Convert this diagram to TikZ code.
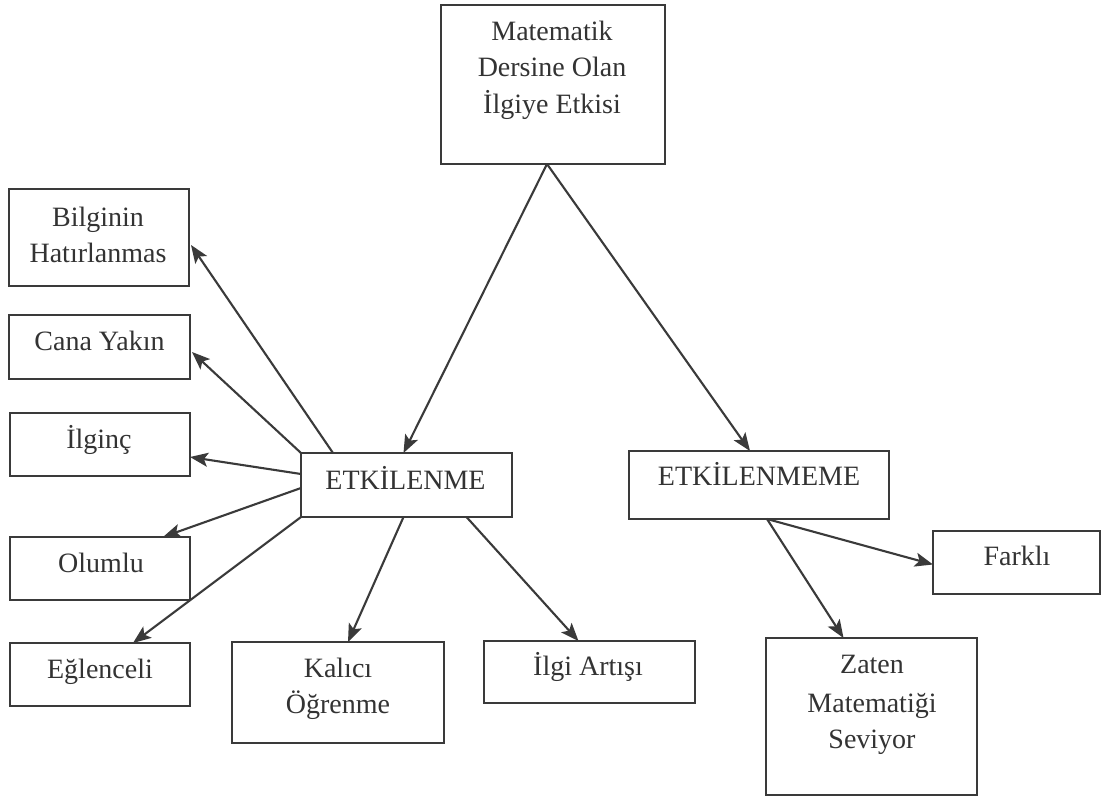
\documentclass[tikz,border=0pt]{standalone}
\usepackage{fontspec}
\setmainfont{Liberation Serif}
\usetikzlibrary{arrows.meta}
\definecolor{ink}{HTML}{3A3A3A}
\definecolor{txtc}{HTML}{333333}
\tikzset{
  box/.style={draw=ink, line width=2.1pt, rectangle, inner sep=0pt, outer sep=0pt, fill=white},
  txt/.style={anchor=base, inner sep=0pt, text=txtc, font=\fontsize{28}{36}\selectfont},
  link/.style={draw=ink, line width=2.1pt, -{Stealth[length=18pt,width=14pt,inset=4pt]}}
}
\begin{document}
\begin{tikzpicture}[x=1pt,y=-1pt]
\useasboundingbox (0,0) rectangle (1102,800);
\fill[white] (0,0) rectangle (1102,800);

% boxes
\node[box, minimum width=224pt, minimum height=159pt] (top)  at (553,84.5) {};
\node[box, minimum width=180pt, minimum height=97pt]  (bil)  at (99,237.5) {};
\node[box, minimum width=181pt, minimum height=64pt]  (cana) at (99.5,347) {};
\node[box, minimum width=180pt, minimum height=63pt]  (ilg)  at (100,444.5) {};
\node[box, minimum width=180pt, minimum height=63pt]  (olu)  at (100,568.5) {};
\node[box, minimum width=180pt, minimum height=63pt]  (egl)  at (100,674.5) {};
\node[box, minimum width=211pt, minimum height=64pt]  (etk)  at (406.5,485) {};
\node[box, minimum width=212pt, minimum height=101pt] (kal)  at (338,692.5) {};
\node[box, minimum width=211pt, minimum height=62pt]  (art)  at (589.5,672) {};
\node[box, minimum width=260pt, minimum height=68pt]  (etm)  at (759,485) {};
\node[box, minimum width=167pt, minimum height=63pt]  (far)  at (1016.5,562.5) {};
\node[box, minimum width=211pt, minimum height=157pt] (zat)  at (871.5,716.5) {};

% labels
\node[txt] (top1) at (552,41)  {Matematik};
\node[txt] (top2) at (552,77)  {Dersine Olan};
\node[txt] (top3) at (552,113) {İlgiye Etkisi};
\node[txt] (bil1) at (98,226)  {Bilginin};
\node[txt] (bil2) at (98,262)  {Hatırlanmas};
\node[txt] (cana1) at (99.5,350) {Cana Yakın};
\node[txt] (ilg1) at (99,448)  {İlginç};
\node[txt] (olu1) at (101,572) {Olumlu};
\node[txt] (egl1) at (100,678) {Eğlenceli};
\node[txt] (etk1) at (405.5,489) {ETKİLENME};
\node[txt] (kal1) at (338,677) {Kalıcı};
\node[txt] (kal2) at (338,713) {Öğrenme};
\node[txt] (art1) at (588,675) {İlgi Artışı};
\node[txt] (etm1) at (759,485) {ETKİLENMEME};
\node[txt] (far1) at (1017,565) {Farklı};
\node[txt] (zat1) at (872,673) {Zaten};
\node[txt] (zat2) at (872,712) {Matematiği};
\node[txt] (zat3) at (872,748) {Seviyor};

% connectors (y grows downwards, so a downward shift is a negative yshift)
\coordinate (apex) at ([xshift=-6pt]top.south);
\draw[link] (apex) -- ([xshift=-3pt]etk.north);
\draw[link] (apex) -- ([xshift=-9pt]etm.north);

\draw[link] ([xshift=32pt]etk.north west) -- ([xshift=2pt,yshift=-7.5pt]bil.east);
\draw[link] (etk.north west) -- ([xshift=2pt,yshift=-5pt]cana.east);
\draw[link] ([yshift=-21pt]etk.north west) -- ([yshift=-12.5pt]ilg.east);
\draw[link] ([yshift=-35pt]etk.north west) -- ([xshift=-27pt]olu.north east);
\draw[link] (etk.south west) -- ([xshift=-57pt]egl.north east);
\draw[link] ([xshift=-3pt]etk.south) -- ([xshift=10pt]kal.north);
\draw[link] ([xshift=60pt]etk.south) -- ([xshift=-11pt]art.north);

\draw[link] ([xshift=8pt]etm.south) -- ([yshift=-2pt]far.west);
\draw[link] ([xshift=8pt]etm.south) -- ([xshift=-28pt]zat.north);
\end{tikzpicture}
\end{document}
